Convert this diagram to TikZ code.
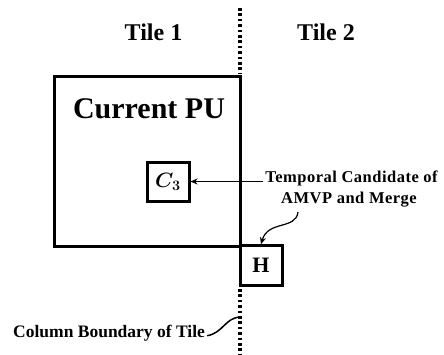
\documentclass[tikz,border=0pt]{standalone}
\usepackage{fontspec}
\setmainfont{Liberation Serif}
\usetikzlibrary{arrows.meta}
\tikzset{
  boxline/.style={draw, line width=3pt, inner sep=0pt},
  dotline/.style={line width=3.2pt, dash pattern=on 2.6pt off 2.8pt},
  thinarrow/.style={line width=1.2pt, -{Stealth[length=7pt,width=6pt]}},
  lbl/.style={inner sep=0pt, font=\bfseries},
}
\begin{document}
\begin{tikzpicture}[x=1pt,y=-1pt]
\useasboundingbox (0,0) rectangle (444,354);
% titles
\node[lbl, anchor=base, font=\bfseries\fontsize{24}{28}\selectfont] (tile1) at (153.5,40.5) {Tile 1};
\node[lbl, anchor=base, font=\bfseries\fontsize{24}{28}\selectfont] (tile2) at (326,40.5) {Tile 2};
% current PU box
\node[boxline, minimum width=186pt, minimum height=170pt] (pu) at (147,161) {};
\node[lbl, anchor=base, font=\bfseries\fontsize{30}{34}\selectfont] (pulabel) at (149,118) {Current PU};
% C3 box
\node[boxline, minimum width=42pt, minimum height=39pt, font=\fontsize{20}{24}\selectfont\boldmath] (c3) at (168,181.5) {$C_3$};
% H box
\node[boxline, minimum width=42pt, minimum height=39.5pt, font=\bfseries\fontsize{22}{26}\selectfont] (h) at (261,265.5) {H};
% boundary coordinates
\coordinate (btop) at (240,8);
\coordinate (bmid) at (240,74);
\coordinate (blow) at (240,289);
\coordinate (bend) at (240,354);
\draw[dotline] (btop) -- (bmid);
\draw[dotline] (blow) -- (bend);
% temporal label
\node[lbl, anchor=base, font=\bfseries\fontsize{16.5}{20}\selectfont\addfontfeatures{LetterSpace=3}] (temp1) at (351.5,182.7) {Temporal Candidate of};
\node[lbl, anchor=base, font=\bfseries\fontsize{16.5}{20}\selectfont\addfontfeatures{LetterSpace=3}] (temp2) at (349,203.5) {AMVP and Merge};
\draw[thinarrow] ([xshift=-2pt]c3.east -| temp1.west) -- (c3.east);
\coordinate (cstart) at (298,212);
\draw[thinarrow] (cstart) .. controls (296,230) and (268,220) .. (h.north);
% column boundary label
\node[lbl, anchor=base west, font=\bfseries\fontsize{17.5}{20}\selectfont] (col) at (13,337) {Column Boundary of Tile};
\coordinate (cb) at (240,317);
\draw[line width=1.5pt] ([xshift=2pt,yshift=-3pt]col.east) .. controls (223,333) and (225,318) .. (cb);
\end{tikzpicture}
\end{document}
